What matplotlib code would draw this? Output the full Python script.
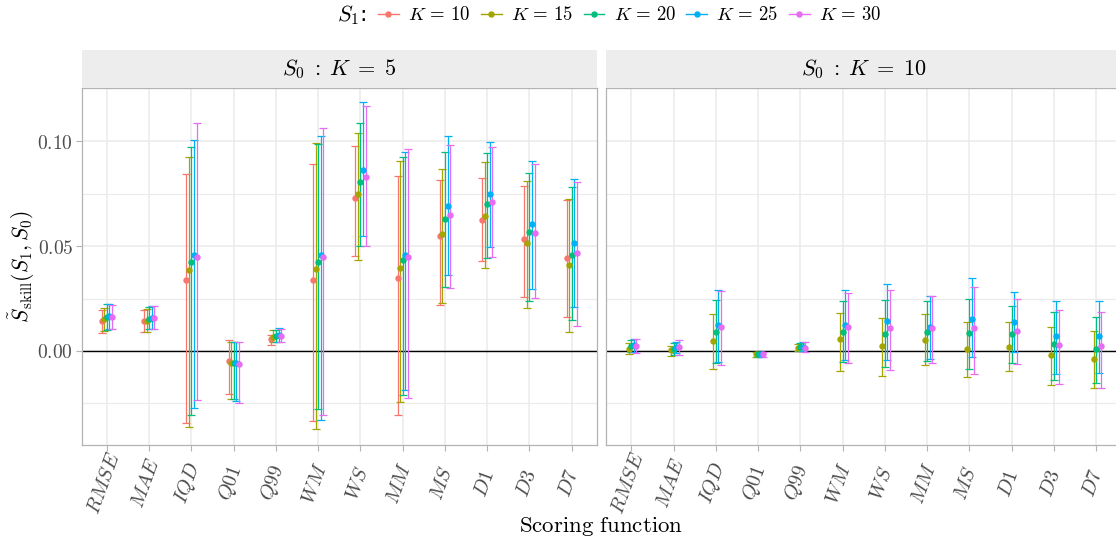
import numpy as np
import matplotlib.pyplot as plt
import matplotlib.transforms as mtransforms
from matplotlib.lines import Line2D

plt.rcParams['mathtext.fontset'] = 'cm'

# ---- data -------------------------------------------------------------
scores = ['RMSE', 'MAE', 'IQD', 'Q01', 'Q99', 'WM', 'WS', 'MM', 'MS', 'D1', 'D3', 'D7']
k_labels = ['10', '15', '20', '25', '30']
colors = ['#F8766D', '#A3A500', '#00BF7D', '#00B0F6', '#E76BF3']

# panel S0: K=5  (point, lower, upper) for each S1
k5_k10_pt = [0.0142, 0.0141, 0.0336, -0.0046, 0.0056, 0.0339, 0.0729, 0.0346, 0.0548, 0.0623, 0.0535, 0.0444]
k5_k10_lo = [0.0086, 0.0089, -0.0342, -0.0205, 0.0030, -0.0333, 0.0452, -0.0304, 0.0221, 0.0427, 0.0255, 0.0161]
k5_k10_hi = [0.0193, 0.0196, 0.0841, 0.0053, 0.0076, 0.0889, 0.0979, 0.0836, 0.0817, 0.0825, 0.0787, 0.0720]

k5_k15_pt = [0.0150, 0.0145, 0.0385, -0.0057, 0.0068, 0.0392, 0.0750, 0.0396, 0.0556, 0.0642, 0.0514, 0.0408]
k5_k15_lo = [0.0097, 0.0089, -0.0363, -0.0231, 0.0041, -0.0373, 0.0435, -0.0242, 0.0228, 0.0396, 0.0205, 0.0091]
k5_k15_hi = [0.0205, 0.0201, 0.0925, 0.0041, 0.0100, 0.0992, 0.1040, 0.0903, 0.0866, 0.0901, 0.0809, 0.0726]

k5_k20_pt = [0.0161, 0.0153, 0.0422, -0.0059, 0.0072, 0.0425, 0.0804, 0.0432, 0.0629, 0.0699, 0.0567, 0.0457]
k5_k20_lo = [0.0100, 0.0105, -0.0304, -0.0229, 0.0041, -0.0277, 0.0502, -0.0212, 0.0307, 0.0444, 0.0239, 0.0148]
k5_k20_hi = [0.0223, 0.0208, 0.0971, 0.0041, 0.0100, 0.0986, 0.1084, 0.0924, 0.0946, 0.0943, 0.0846, 0.0782]

k5_k25_pt = [0.0166, 0.0158, 0.0459, -0.0059, 0.0076, 0.0459, 0.0861, 0.0457, 0.0691, 0.0750, 0.0605, 0.0514]
k5_k25_lo = [0.0104, 0.0105, -0.0272, -0.0237, 0.0041, -0.0328, 0.0546, -0.0185, 0.0363, 0.0497, 0.0296, 0.0209]
k5_k25_hi = [0.0225, 0.0216, 0.1006, 0.0041, 0.0108, 0.1024, 0.1188, 0.0949, 0.1022, 0.0995, 0.0906, 0.0820]

k5_k30_pt = [0.0163, 0.0157, 0.0446, -0.0062, 0.0072, 0.0447, 0.0828, 0.0449, 0.0648, 0.0712, 0.0564, 0.0467]
k5_k30_lo = [0.0105, 0.0105, -0.0232, -0.0247, 0.0041, -0.0304, 0.0498, -0.0223, 0.0301, 0.0447, 0.0253, 0.0121]
k5_k30_hi = [0.0217, 0.0216, 0.1084, 0.0041, 0.0105, 0.1061, 0.1167, 0.0963, 0.0981, 0.0970, 0.0889, 0.0803]

# panel S0: K=10 (no K=10 series here)
k10_k15_pt = [0.0011, 0.0003, 0.0049, -0.0013, 0.0014, 0.0056, 0.0024, 0.0053, 0.0011, 0.0021, -0.0021, -0.0040]
k10_k15_lo = [-0.0014, -0.0024, -0.0084, -0.0027, 0.0000, -0.0095, -0.0121, -0.0068, -0.0124, -0.0096, -0.0162, -0.0177]
k10_k15_hi = [0.0037, 0.0025, 0.0177, -0.0004, 0.0035, 0.0182, 0.0157, 0.0175, 0.0140, 0.0137, 0.0113, 0.0094]

k10_k20_pt = [0.0024, 0.0011, 0.0089, -0.0014, 0.0018, 0.0089, 0.0081, 0.0089, 0.0086, 0.0081, 0.0032, 0.0011]
k10_k20_lo = [-0.0003, -0.0018, -0.0059, -0.0028, -0.0002, -0.0054, -0.0078, -0.0046, -0.0086, -0.0057, -0.0137, -0.0153]
k10_k20_hi = [0.0053, 0.0040, 0.0244, -0.0004, 0.0038, 0.0237, 0.0244, 0.0239, 0.0248, 0.0215, 0.0188, 0.0162]

k10_k25_pt = [0.0028, 0.0019, 0.0126, -0.0014, 0.0019, 0.0123, 0.0145, 0.0116, 0.0151, 0.0137, 0.0072, 0.0072]
k10_k25_lo = [-0.0003, -0.0011, -0.0053, -0.0029, -0.0002, -0.0041, -0.0043, -0.0038, -0.0030, -0.0006, -0.0111, -0.0105]
k10_k25_hi = [0.0057, 0.0043, 0.0291, -0.0004, 0.0041, 0.0291, 0.0320, 0.0264, 0.0348, 0.0280, 0.0239, 0.0239]

k10_k30_pt = [0.0023, 0.0018, 0.0113, -0.0014, 0.0016, 0.0113, 0.0108, 0.0108, 0.0108, 0.0094, 0.0029, 0.0022]
k10_k30_lo = [-0.0010, -0.0018, -0.0065, -0.0030, -0.0003, -0.0057, -0.0091, -0.0057, -0.0110, -0.0061, -0.0156, -0.0178]
k10_k30_hi = [0.0057, 0.0053, 0.0285, -0.0004, 0.0041, 0.0277, 0.0291, 0.0260, 0.0304, 0.0248, 0.0196, 0.0186]

panels = [
    (r'$S_0\;:\;K\;=\;5$', [(k5_k10_pt, k5_k10_lo, k5_k10_hi), (k5_k15_pt, k5_k15_lo, k5_k15_hi),
                            (k5_k20_pt, k5_k20_lo, k5_k20_hi), (k5_k25_pt, k5_k25_lo, k5_k25_hi),
                            (k5_k30_pt, k5_k30_lo, k5_k30_hi)]),
    (r'$S_0\;:\;K\;=\;10$', [None, (k10_k15_pt, k10_k15_lo, k10_k15_hi),
                             (k10_k20_pt, k10_k20_lo, k10_k20_hi), (k10_k25_pt, k10_k25_lo, k10_k25_hi),
                             (k10_k30_pt, k10_k30_lo, k10_k30_hi)]),
]

# ---- figure -----------------------------------------------------------
W, H = 1116, 544
fig = plt.figure(figsize=(W / 100, H / 100), dpi=100)

def px_axes(x0, y0, x1, y1):
    return fig.add_axes([x0 / W, 1 - y1 / H, (x1 - x0) / W, (y1 - y0) / H])

grid_col = '#EBEBEB'
panel_x = [(81.6, 597.1), (606.0, 1121.4)]
shift = mtransforms.ScaledTranslation(-3 / 100, 0, fig.dpi_scale_trans)

for p, (title, series) in enumerate(panels):
    x0, x1 = panel_x[p]
    ax = px_axes(x0, 88, x1, 445)
    xs = np.arange(len(scores))
    for j, s in enumerate(series):
        if s is None:
            continue
        pt, lo, hi = (np.array(v) for v in s)
        xx = xs + (j - 2) * 0.06
        ax.errorbar(xx, pt, yerr=[pt - lo, hi - pt], fmt='o', color=colors[j], ms=3.6,
                    elinewidth=0.9, capsize=2.8, capthick=0.9, zorder=3)
    ax.axhline(0, color='black', lw=1.0, zorder=2)
    ax.set_xlim(-0.6, 11.6)
    ax.set_ylim(-0.0448, 0.1253)
    ax.set_xticks(xs)
    ax.set_xticklabels(['$' + s + '$' for s in scores], rotation=70, ha='center',
                       rotation_mode='anchor', va='center', fontsize=14.5, color='#4D4D4D')
    ax.set_yticks([0.0, 0.05, 0.10])
    ax.set_yticks([-0.025, 0.025, 0.075], minor=True)
    ax.grid(which='major', color=grid_col, lw=1.1)
    ax.grid(which='minor', axis='y', color=grid_col, lw=0.8)
    ax.set_axisbelow(True)
    ax.tick_params(axis='x', length=4, color='#B3B3B3', pad=23.5)
    ax.tick_params(axis='y', which='minor', length=0)
    if p == 0:
        ax.set_yticklabels([r'$0.00$', r'$0.05$', r'$0.10$'], fontsize=14, color='#4D4D4D')
        ax.tick_params(axis='y', which='major', length=4, color='#B3B3B3', pad=2)
    else:
        ax.tick_params(axis='y', which='major', length=0, labelleft=False)
    for sp in ax.spines.values():
        sp.set_color('#B3B3B3')
        sp.set_linewidth(0.9)
    for lab in ax.get_xticklabels():
        lab.set_transform(lab.get_transform() + shift)

    st = px_axes(x0, 50, x1, 88)
    st.set_facecolor('#EDEDED')
    st.set_xticks([])
    st.set_yticks([])
    for sp in st.spines.values():
        sp.set_visible(False)
    st.text(0.5, 0.5, title, ha='center', va='center', fontsize=16, transform=st.transAxes)

fig.text(22 / W, 1 - 267 / H, r'$\tilde{S}_{\mathrm{skill}}(S_1, S_0)$', rotation=90,
         ha='center', va='center', fontsize=15.5)
fig.text(601 / W, 1 - 527 / H, r'$\mathrm{Scoring\ function}$', ha='center', va='center', fontsize=16.5)

handles = [Line2D([], [], color=c, marker='o', ms=3.6, lw=1.0) for c in colors]
labels = [r'$K\,=\,' + k + '$' for k in k_labels]
fig.text(337 / W, 1 - 15 / H, r'$S_1$:', ha='left', va='center', fontsize=16)
fig.legend(handles, labels, loc='center left', bbox_to_anchor=(378 / W, 1 - 15 / H), ncol=5,
           frameon=False, fontsize=13.5, handlelength=1.1, handletextpad=0.5, columnspacing=0.55,
           borderaxespad=0, borderpad=0)

fig.savefig('out.png', dpi=100)
